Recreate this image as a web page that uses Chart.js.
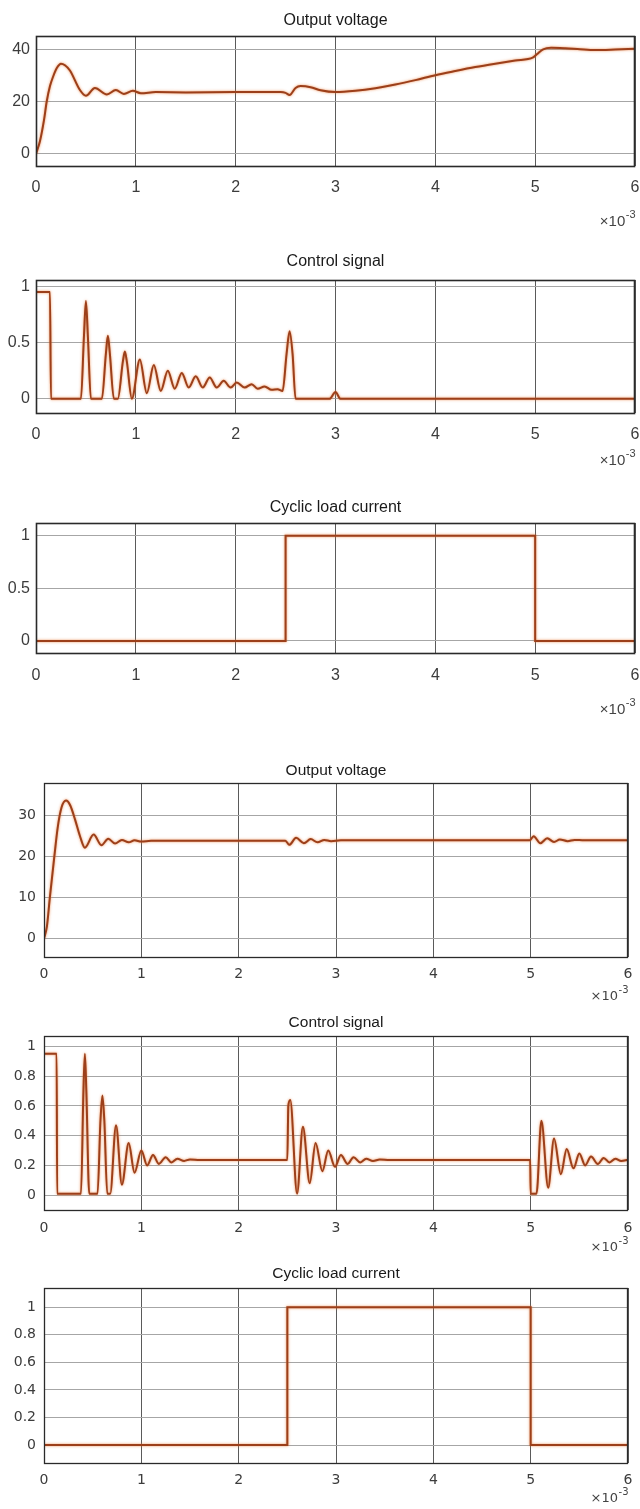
<!DOCTYPE html>
<html><head><meta charset="utf-8">
<script src="https://cdn.jsdelivr.net/npm/chart.js@4.4.1/dist/chart.umd.min.js"></script>
<style>
html,body{margin:0;padding:0;background:#fff;}
body{width:640px;height:1509px;position:relative;overflow:hidden;}
canvas{position:absolute;left:0;}
</style>
</head><body>
<script>
// ---------- data (time in ms, axis labelled x10^-3 s) ----------
const xTicks = [0, 1, 2, 3, 4, 5, 6];

// Panel 1: Output voltage (upper figure)
const tVolt1 = [0, 0.04, 0.08, 0.107, 0.14, 0.17, 0.21, 0.25, 0.29, 0.34, 0.44, 0.5, 0.59, 0.71, 0.8, 0.88, 0.97, 1.05, 1.2, 1.5, 2.0, 2.45, 2.5, 2.54, 2.6, 2.65, 2.75, 2.85, 3.0, 3.2, 3.4, 3.6, 3.8, 4.0, 4.2, 4.4, 4.6, 4.8, 4.98, 5.02, 5.08, 5.16, 5.3, 5.45, 5.6, 5.8, 6.0];
const vVolt1 = [0, 5, 13, 20, 26, 29.5, 33, 34.6, 34, 32, 24.5, 22.3, 25.3, 22.8, 24.5, 23, 24.2, 23.3, 23.7, 23.6, 23.7, 23.7, 23.4, 22.6, 25.3, 26, 25.6, 24.4, 23.7, 24.2, 25.2, 26.6, 28.3, 30.2, 31.8, 33.3, 34.6, 35.8, 37, 38.3, 40.1, 40.7, 40.5, 40.1, 39.8, 40, 40.3];
const yTicksVolt1 = [0, 20, 40];

// Panel 2: Control signal (upper figure)
const tCtrl1 = [0, 0.14, 0.15, 0.45, 0.48, 0.5, 0.52, 0.55, 0.66, 0.7, 0.72, 0.74, 0.78, 0.82, 0.87, 0.89, 0.91, 0.96, 1.04, 1.11, 1.18, 1.25, 1.32, 1.39, 1.46, 1.53, 1.6, 1.67, 1.74, 1.81, 1.88, 1.95, 2.01, 2.09, 2.16, 2.22, 2.29, 2.36, 2.42, 2.47, 2.51, 2.54, 2.57, 2.6, 2.94, 3.0, 3.05, 6.0];
const vCtrl1 = [0.95, 0.95, 0, 0, 0.55, 0.87, 0.55, 0, 0, 0.4, 0.56, 0.4, 0, 0, 0.33, 0.42, 0.33, 0, 0.35, 0.05, 0.3, 0.07, 0.25, 0.09, 0.23, 0.1, 0.2, 0.1, 0.19, 0.1, 0.16, 0.1, 0.145, 0.1, 0.13, 0.09, 0.11, 0.08, 0.085, 0.07, 0.4, 0.6, 0.4, 0, 0, 0.06, 0, 0];
const yTicksCtrl1 = [0, 0.5, 1];

// Panel 3: Cyclic load current (upper figure)
const tLoad1 = [0, 2.5, 2.5, 5.0, 5.0, 6.0];
const vLoad1 = [0, 0, 1, 1, 0, 0];
const yTicksLoad1 = [0, 0.5, 1];

// Panel 4: Output voltage (lower figure)
const tVolt2 = [0, 0.03, 0.06, 0.106, 0.14, 0.18, 0.226, 0.27, 0.32, 0.37, 0.42, 0.51, 0.59, 0.66, 0.73, 0.8, 0.87, 0.93, 1.0, 1.1, 2.48, 2.52, 2.59, 2.67, 2.74, 2.81, 2.88, 2.95, 3.05, 4.99, 5.03, 5.1, 5.17, 5.24, 5.3, 5.38, 5.45, 5.55, 6.0];
const vVolt2 = [0, 3, 10, 20, 27, 32, 33.7, 32.5, 29, 25, 22.2, 25.4, 22.8, 24.4, 23.2, 24.1, 23.5, 24, 23.7, 23.9, 23.9, 22.9, 24.6, 23.3, 24.3, 23.5, 24.1, 23.8, 24, 24, 25, 23.3, 24.5, 23.6, 24.2, 23.8, 24.1, 24, 24];
const yTicksVolt2 = [0, 10, 20, 30];

// Panel 5: Control signal (lower figure)
const tCtrl2 = [0, 0.13, 0.135, 0.38, 0.405, 0.42, 0.435, 0.465, 0.55, 0.58, 0.6, 0.62, 0.65, 0.68, 0.74, 0.8, 0.87, 0.93, 1.0, 1.06, 1.12, 1.18, 1.25, 1.31, 1.37, 1.44, 1.5, 1.6, 2.5, 2.51, 2.53, 2.6, 2.66, 2.73, 2.79, 2.86, 2.92, 2.99, 3.05, 3.12, 3.18, 3.25, 3.31, 3.38, 3.45, 3.55, 4.995, 5.0, 5.06, 5.11, 5.18, 5.24, 5.31, 5.37, 5.44, 5.5, 5.56, 5.62, 5.69, 5.75, 5.81, 5.87, 5.93, 6.0];
const vCtrl2 = [0.95, 0.95, 0.01, 0.01, 0.7, 0.95, 0.7, 0.01, 0.01, 0.5, 0.67, 0.5, 0.01, 0.01, 0.47, 0.07, 0.35, 0.15, 0.3, 0.2, 0.27, 0.21, 0.255, 0.22, 0.245, 0.23, 0.24, 0.237, 0.237, 0.6, 0.64, 0.01, 0.46, 0.08, 0.35, 0.16, 0.3, 0.19, 0.27, 0.21, 0.255, 0.22, 0.245, 0.23, 0.24, 0.237, 0.237, 0.01, 0.01, 0.5, 0.05, 0.38, 0.14, 0.31, 0.18, 0.28, 0.2, 0.26, 0.21, 0.25, 0.22, 0.245, 0.23, 0.238];
const yTicksCtrl2 = [0, 0.2, 0.4, 0.6, 0.8, 1];

// Panel 6: Cyclic load current (lower figure)
const tLoad2 = [0, 2.5, 2.5, 5.0, 5.0, 6.0];
const vLoad2 = [0, 0, 1, 1, 0, 0];
const yTicksLoad2 = [0, 0.2, 0.4, 0.6, 0.8, 1];

// ---------- layout / style ----------
const TOP_FONT = '"Liberation Sans Narrow", "Arial Narrow", "Liberation Sans", Arial, sans-serif';
const BOT_FONT = '"Liberation Sans", Arial, sans-serif';
const BOT_TICK_FONT = '"DejaVu Sans", "Liberation Sans", sans-serif';

const panels = [
  {title: 'Output voltage', t: tVolt1, v: vVolt1, yTicks: yTicksVolt1, yMin: -4.6, yMax: 45.2,
   L: 36, R: 635, T: 36, B: 166, titleY: 21, labelY: 188, expY: 222, smooth: true, style: 'top'},
  {title: 'Control signal', t: tCtrl1, v: vCtrl1, yTicks: yTicksCtrl1, yMin: -0.126, yMax: 1.056,
   L: 36, R: 635, T: 280, B: 413, titleY: 262, labelY: 435, expY: 461, smooth: true, style: 'top'},
  {title: 'Cyclic load current', t: tLoad1, v: vLoad1, yTicks: yTicksLoad1, yMin: -0.115, yMax: 1.12,
   L: 36, R: 635, T: 523, B: 653, titleY: 508, labelY: 676, expY: 710, smooth: false, style: 'top'},
  {title: 'Output voltage', t: tVolt2, v: vVolt2, yTicks: yTicksVolt2, yMin: -4.5, yMax: 38,
   L: 44, R: 628, T: 783, B: 957, titleY: 771, labelY: 974, expY: 997, smooth: true, style: 'bot'},
  {title: 'Control signal', t: tCtrl2, v: vCtrl2, yTicks: yTicksCtrl2, yMin: -0.1, yMax: 1.07,
   L: 44, R: 628, T: 1036, B: 1210, titleY: 1023, labelY: 1228, expY: 1248, smooth: true, style: 'bot'},
  {title: 'Cyclic load current', t: tLoad2, v: vLoad2, yTicks: yTicksLoad2, yMin: -0.13, yMax: 1.14,
   L: 44, R: 628, T: 1288, B: 1463, titleY: 1274, labelY: 1480, expY: 1499, smooth: false, style: 'bot'}
];

const PAD_TOP = 40, BOTTOM_H = 75;

const decoPlugin = {
  id: 'deco',
  beforeDatasetsDraw(chart) {
    const ctx = chart.ctx;
    ctx.save();
    ctx.shadowColor = 'rgba(232,118,48,0.85)';
    ctx.shadowBlur = 2.5;
  },
  afterDatasetsDraw(chart) {
    chart.ctx.restore();
  },
  afterDraw(chart) {
    const o = chart.options.plugins.deco;
    const a = chart.chartArea;
    const ctx = chart.ctx;
    ctx.save();
    ctx.strokeStyle = o.boxColor;
    ctx.lineWidth = o.boxWidth;
    ctx.strokeRect(Math.round(a.left) + 0.5, Math.round(a.top) + 0.5, Math.round(a.right - a.left) - 1, Math.round(a.bottom - a.top));
    ctx.fillStyle = '#1a1a1a';
    ctx.font = o.titleFont;
    ctx.textAlign = 'center';
    ctx.textBaseline = 'middle';
    ctx.fillText(o.title, (a.left + a.right) / 2, o.titleY);
    ctx.fillStyle = '#444';
    ctx.font = o.expSupFont;
    const wSup = ctx.measureText('-3').width;
    ctx.font = o.expFont;
    const wBase = ctx.measureText('\u00d710').width;
    const x0 = a.right - wSup - wBase;
    ctx.textAlign = 'left';
    ctx.fillText('\u00d710', x0, o.expY);
    ctx.font = o.expSupFont;
    ctx.fillText('-3', x0 + wBase + 0.5, o.expY - 7);
    ctx.restore();
  }
};

panels.forEach((p) => {
  const cv = document.createElement('canvas');
  const canvasTop = p.T - PAD_TOP;
  const H = (p.B - p.T) + PAD_TOP + BOTTOM_H;
  cv.width = 640; cv.height = H;
  cv.style.top = canvasTop + 'px';
  cv.style.width = '640px'; cv.style.height = H + 'px';
  document.body.appendChild(cv);

  const isTop = p.style === 'top';
  const tickSize = isTop ? 16 : 14;
  const tickFamily = isTop ? TOP_FONT : BOT_TICK_FONT;
  const lineH = 1.2;
  const xPad = Math.max(0, (p.labelY - p.B) - tickSize * lineH / 2);

  new Chart(cv, {
    type: 'line',
    data: {
      datasets: [{
        data: p.t.map((x, k) => ({x: x, y: p.v[k]})),
        borderColor: '#9c3f1a',
        borderWidth: 2,
        pointRadius: 0,
        fill: false,
        cubicInterpolationMode: p.smooth ? 'monotone' : 'default',
        tension: 0
      }]
    },
    options: {
      responsive: false,
      animation: false,
      devicePixelRatio: 1,
      layout: {padding: {top: PAD_TOP, left: 0, right: 640 - p.R, bottom: 0}},
      plugins: {
        legend: {display: false},
        tooltip: {enabled: false},
        title: {display: false},
        deco: {
          title: p.title,
          titleY: p.titleY - canvasTop,
          expY: p.expY - canvasTop,
          titleFont: isTop ? ('16px ' + TOP_FONT) : ('15.5px ' + BOT_FONT),
          expFont: isTop ? ('15px ' + TOP_FONT) : ('13px ' + BOT_TICK_FONT),
          expSupFont: isTop ? ('11px ' + TOP_FONT) : ('10px ' + BOT_TICK_FONT),
          boxColor: '#2a2a2a',
          boxWidth: isTop ? 1.6 : 1.3
        }
      },
      scales: {
        x: {
          type: 'linear',
          min: 0, max: 6,
          afterBuildTicks: s => { s.ticks = xTicks.map(v => ({value: v})); },
          afterFit: s => { s.height = BOTTOM_H; s.paddingLeft = 0; s.paddingRight = 0; s.paddingTop = 0; s.paddingBottom = 0; },
          grid: {color: '#5a5a5a', lineWidth: 1, drawTicks: false},
          border: {display: false},
          ticks: {
            padding: xPad,
            color: '#3c3c3c',
            font: {family: tickFamily, size: tickSize, lineHeight: lineH},
            maxRotation: 0,
            callback: v => String(v)
          }
        },
        y: {
          type: 'linear',
          min: p.yMin, max: p.yMax,
          afterBuildTicks: s => { s.ticks = p.yTicks.map(v => ({value: v})); },
          afterFit: s => { s.width = p.L; s.paddingLeft = 0; s.paddingRight = 0; s.paddingTop = 0; s.paddingBottom = 0; },
          grid: {color: '#a6a6a6', lineWidth: 1, drawTicks: false},
          border: {display: false},
          ticks: {
            padding: isTop ? 6 : 8,
            color: '#3c3c3c',
            font: {family: tickFamily, size: tickSize, lineHeight: lineH},
            callback: v => String(v)
          }
        }
      }
    },
    plugins: [decoPlugin]
  });
});
</script>
</body></html>
